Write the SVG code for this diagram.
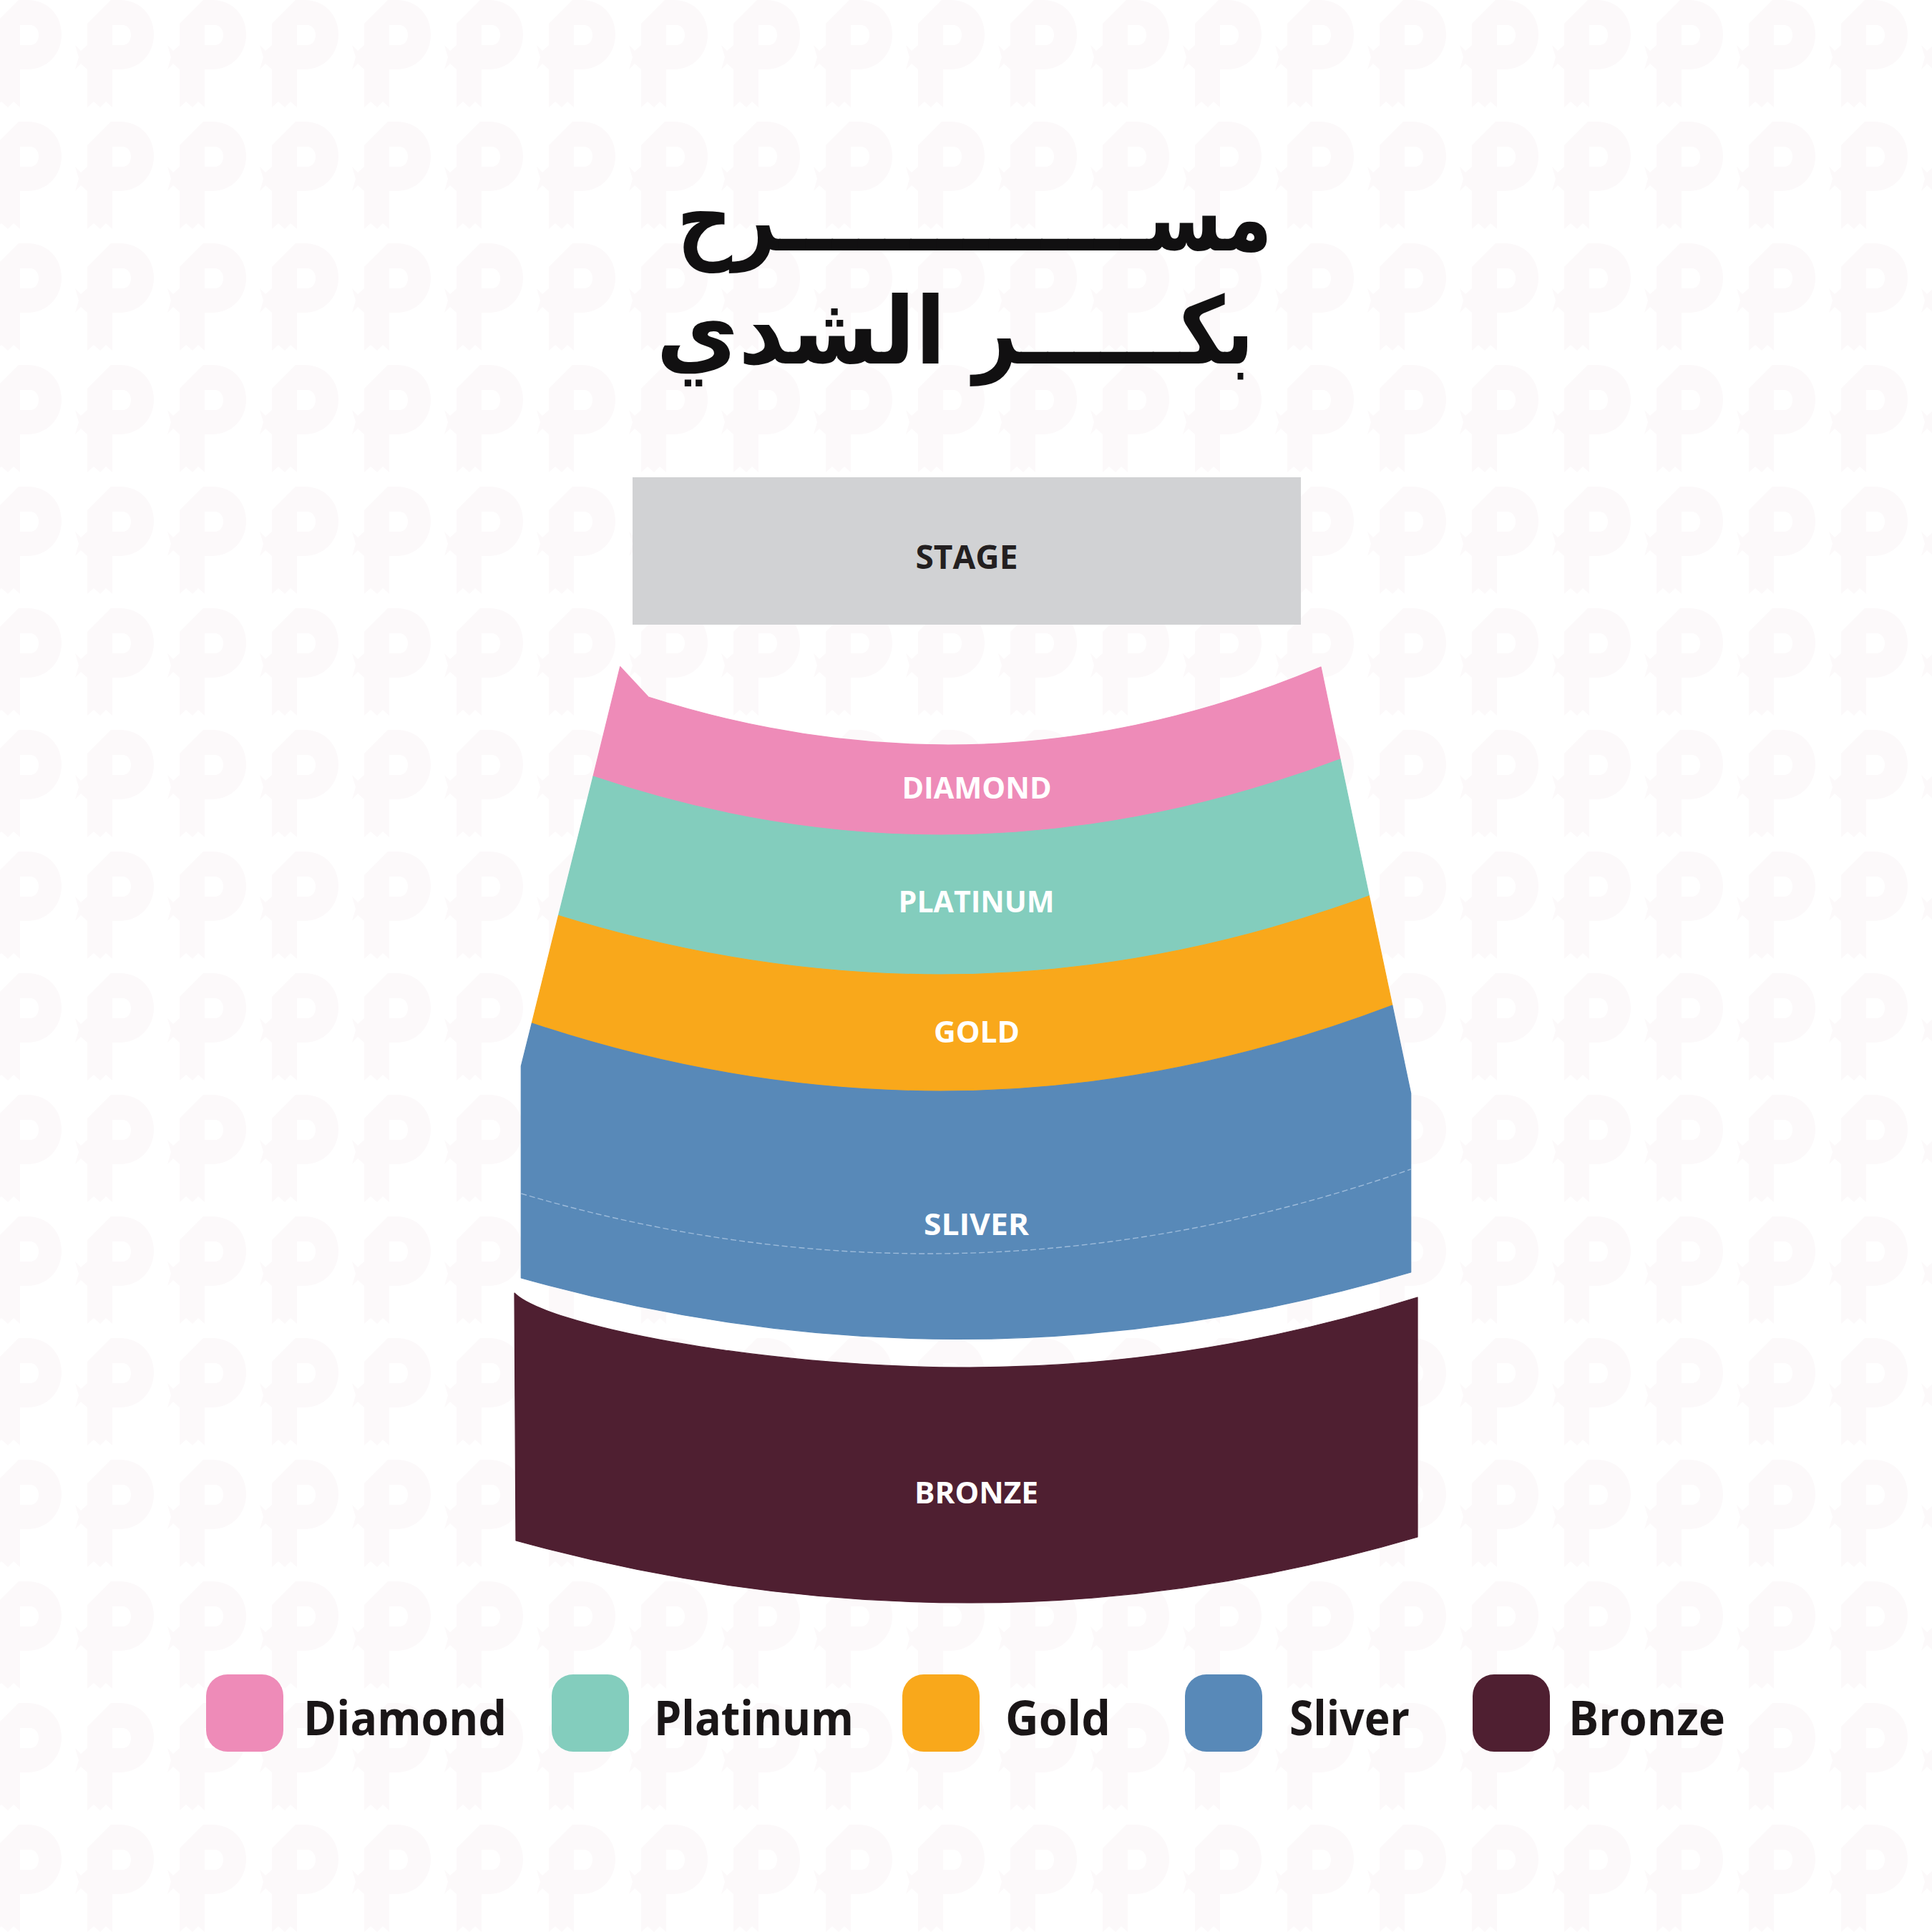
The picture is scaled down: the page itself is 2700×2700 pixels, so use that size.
<svg xmlns="http://www.w3.org/2000/svg" width="2700" height="2700" viewBox="0 0 2700 2700">
<style>
.lbl{font-family:"Open Sans","Liberation Sans",sans-serif;font-weight:700;fill:#ffffff;font-size:41px;text-anchor:middle}
.stage-lbl{font-family:"Open Sans","Liberation Sans",sans-serif;font-weight:700;fill:#231f20;font-size:46px;text-anchor:middle}
.leg{font-family:"Open Sans","Liberation Sans",sans-serif;font-weight:700;fill:#1a1617;font-size:66px}
.ar{font-family:"DejaVu Sans","Noto Sans Arabic","Noto Naskh Arabic",sans-serif;font-weight:700;fill:#111011;font-size:130px;text-anchor:middle}
.diamond{fill:#ee8bb8;stroke:#ee8bb8}
.platinum{fill:#83cdbd;stroke:#83cdbd}
.gold{fill:#f9a81b;stroke:#f9a81b}
.silver{fill:#5889b8;stroke:#5889b8}
.bronze{fill:#4f1f31;stroke:#4f1f31}
.band{stroke-width:1.2;stroke-linejoin:round}
</style>
<defs>
<pattern id="bgp" patternUnits="userSpaceOnUse" x="-24" y="0" width="129" height="170">
<path fill="#fcf9fa" fill-rule="evenodd" d="M17,33 L50,0 L62,0 C92,0 110,22 110,48 C110,76 90,97 62,97 L52,97 L52,150 L43,142 L35,150 L26,142 L17,150 Z M52,35 L66,35 C74,35 78,42 78,49 C78,56 74,63 66,63 L52,63 Z"/>
<path fill="#fcf9fa" d="M0,63 L8,71 L17,63 L17,97 L8,89 L0,97 L5,80 Z"/>
</pattern>
</defs>
<rect x="0" y="0" width="2700" height="2700" fill="#ffffff"/>
<rect x="0" y="0" width="2700" height="2700" fill="url(#bgp)"/>

<g id="title">
<text class="ar" x="1362" y="350" textLength="832" lengthAdjust="spacingAndGlyphs">مســــــــــــــرح</text>
<text class="ar" x="1556" y="508" textLength="392" lengthAdjust="spacingAndGlyphs">بكــــــر</text>
<text class="ar" x="1119.5" y="508" textLength="405" lengthAdjust="spacingAndGlyphs">الشدي</text>
</g>

<g id="stage">
<rect x="884" y="667" width="934" height="206" fill="#d1d2d4"/>
<text class="stage-lbl" x="1351" y="795" textLength="143" lengthAdjust="spacingAndGlyphs">STAGE</text>
</g>

<g id="diamond">
<path class="band diamond" d="M866.7,931.7 L906,974 Q1115.5,1041 1325,1041 Q1585.5,1041 1846,932 L1873,1061 Q1593.5,1167 1314,1167 Q1071.5,1167 829,1085 Z"/>
<text class="lbl" x="1365" y="1115.5" textLength="209" lengthAdjust="spacingAndGlyphs">DIAMOND</text>
</g>

<g id="platinum">
<path class="band platinum" d="M829,1085 Q1071.5,1167 1314,1167 Q1593.5,1167 1873,1061 L1913.4,1252 Q1613.7,1362 1314,1362 Q1047.3,1362 780.5,1279.5 Z"/>
<text class="lbl" x="1364.6" y="1275" textLength="218" lengthAdjust="spacingAndGlyphs">PLATINUM</text>
</g>

<g id="gold">
<path class="band gold" d="M780.5,1279.5 Q1047.3,1362 1314,1362 Q1613.7,1362 1913.4,1252 L1945.8,1405 Q1629.9,1525 1314,1525 Q1028.7,1525 743.3,1430 Z"/>
<text class="lbl" x="1365" y="1457" textLength="120" lengthAdjust="spacingAndGlyphs">GOLD</text>
</g>

<g id="silver">
<path class="band silver" d="M743.3,1430 Q1028.7,1525 1314,1525 Q1629.9,1525 1945.8,1405 L1971.7,1528 L1971.7,1778 Q1655.1,1871.5 1338.5,1871.5 Q1033.4,1871.5 728.3,1786 L728.3,1490 Z"/>
<path d="M728.3,1668 Q1012.7,1752 1297,1752 Q1634.4,1752 1971.7,1634" fill="none" stroke="#9dbbda" stroke-width="1.4" stroke-dasharray="8 4"/>
<text class="lbl" x="1364.5" y="1726" textLength="147" lengthAdjust="spacingAndGlyphs">SLIVER</text>
</g>

<g id="bronze">
<path class="band bronze" d="M719,1807 C760,1850 1050,1911 1355,1911 Q1668,1911 1981,1813 L1981,2148 Q1668,2240 1355,2240 Q1038,2240 721,2153 Z"/>
<text class="lbl" x="1364.5" y="2101" textLength="173" lengthAdjust="spacingAndGlyphs">BRONZE</text>
</g>

<g id="connectors"></g>

<g id="legend-diamond">
<rect x="288" y="2340" width="108" height="108" rx="30" fill="#ee8bb8"/>
<text class="leg" x="424" y="2425" textLength="284" lengthAdjust="spacingAndGlyphs">Diamond</text>
</g>
<g id="legend-platinum">
<rect x="771" y="2340" width="108" height="108" rx="30" fill="#83cdbd"/>
<text class="leg" x="914" y="2425" textLength="279" lengthAdjust="spacingAndGlyphs">Platinum</text>
</g>
<g id="legend-gold">
<rect x="1261" y="2340" width="108" height="108" rx="30" fill="#f9a81b"/>
<text class="leg" x="1405" y="2425" textLength="147" lengthAdjust="spacingAndGlyphs">Gold</text>
</g>
<g id="legend-silver">
<rect x="1656" y="2340" width="108" height="108" rx="30" fill="#5889b8"/>
<text class="leg" x="1802" y="2425" textLength="168" lengthAdjust="spacingAndGlyphs">Sliver</text>
</g>
<g id="legend-bronze">
<rect x="2058" y="2340" width="108" height="108" rx="30" fill="#4f1f31"/>
<text class="leg" x="2192" y="2425" textLength="219" lengthAdjust="spacingAndGlyphs">Bronze</text>
</g>
</svg>
